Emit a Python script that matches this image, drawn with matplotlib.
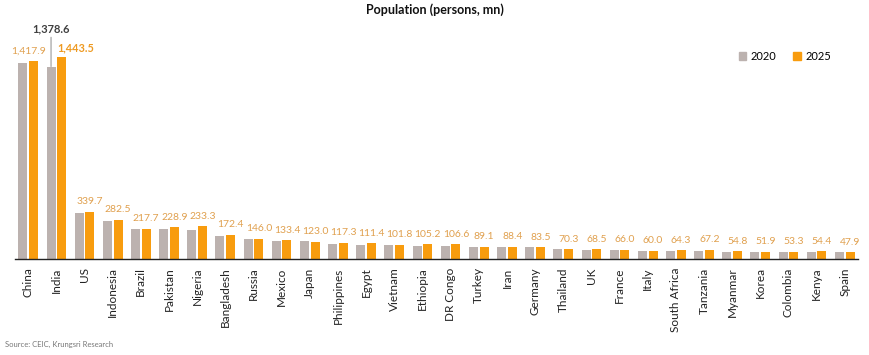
import numpy as np
import matplotlib
matplotlib.use("Agg")
import matplotlib.pyplot as plt
from matplotlib.patches import Patch

plt.rcParams["font.family"] = ["Lato", "DejaVu Sans"]

countries = ["China", "India", "US", "Indonesia", "Brazil", "Pakistan", "Nigeria",
             "Bangladesh", "Russia", "Mexico", "Japan", "Philippines", "Egypt",
             "Vietnam", "Ethiopia", "DR Congo", "Turkey", "Iran", "Germany",
             "Thailand", "UK", "France", "Italy", "South Africa", "Tanzania",
             "Myanmar", "Korea", "Colombia", "Kenya", "Spain"]
pop_2020 = [1404.0, 1378.6, 331.5, 273.5, 212.6, 214.0, 206.1, 164.7, 146.5, 128.9,
            126.2, 109.6, 102.3, 97.3, 95.0, 89.6, 83.4, 84.0, 83.2, 69.8,
            67.1, 65.3, 59.6, 59.3, 59.7, 53.4, 51.8, 50.9, 51.0, 47.4]
pop_2025 = [1417.9, 1443.5, 339.7, 282.5, 217.7, 228.9, 233.3, 172.4, 146.0, 133.4,
            123.0, 117.3, 111.4, 101.8, 105.2, 106.6, 89.1, 88.4, 83.5, 70.3,
            68.5, 66.0, 60.0, 64.3, 67.2, 54.8, 51.9, 53.3, 54.4, 47.9]

GREY = "#BCB2AF"
ORANGE = "#F89C0E"
LABEL = "#E0A04E"

fig = plt.figure(figsize=(8.7, 3.55), dpi=100)
ax = fig.add_axes([15 / 870, 1 - 259 / 355, 843 / 870, 229 / 355])

x = np.arange(len(countries))
w = 0.32
ax.bar(x - 0.19, pop_2020, w, color=GREY, label="2020")
ax.bar(x + 0.19, pop_2025, w, color=ORANGE, label="2025")

ax.set_xlim(-0.47, len(countries) - 0.53)
ax.set_ylim(0, 1640)

for i, v in enumerate(pop_2025):
    if countries[i] == "India":
        ax.annotate(f"{v:,.1f}", (x[i] + 0.05, v), xytext=(0, 10), textcoords="offset pixels",
                    ha="left", va="center", fontsize=7.8, color="#EE9A22", fontweight="bold")
    elif countries[i] == "China":
        ax.annotate(f"{v:,.1f}", (x[i], v), xytext=(0, 10), textcoords="offset pixels",
                    ha="center", va="center", fontsize=7.5, color=LABEL)
    else:
        ax.annotate(f"{v:,.1f}", (x[i] + 0.19, v), xytext=(0, 10), textcoords="offset pixels",
                    ha="center", va="center", fontsize=7.5, color=LABEL)

# India 2020 callout
i = countries.index("India")
ax.annotate(f"{pop_2020[i]:,.1f}", (x[i] - 0.19, pop_2020[i]), xytext=(0, 32),
            textcoords="offset pixels", ha="center", va="bottom", fontsize=8,
            color="#404040", fontweight="bold",
            arrowprops=dict(arrowstyle="-", color="#999999", lw=0.8, shrinkA=0, shrinkB=0))

ax.set_xticks(x)
ax.set_xticklabels(countries, rotation=90, fontsize=8.5, color="#222222")
ax.tick_params(axis="x", length=0, pad=6)
ax.set_yticks([])
for s in ["top", "right", "left"]:
    ax.spines[s].set_visible(False)
ax.spines["bottom"].set_color("#222222")
ax.spines["bottom"].set_linewidth(1)

handles = [Patch(color=GREY, label="2020"), Patch(color=ORANGE, label="2025")]
fig.legend(handles=handles, loc="center", bbox_to_anchor=(785 / 870, 1 - 56 / 355),
           ncol=2, frameon=False, fontsize=8, handlelength=0.7, handleheight=0.7,
           columnspacing=1.5, handletextpad=0.4)

fig.text(0.5, 1 - 10 / 355, "Population (persons, mn)", ha="center", va="center",
         fontsize=9, fontweight="bold", color="#111111")
fig.text(5 / 870, 1 - 344 / 355, "Source: CEIC, Krungsri Research", ha="left", va="center",
         fontsize=5.5, color="#777777")

fig.savefig("out.png", dpi=100)
